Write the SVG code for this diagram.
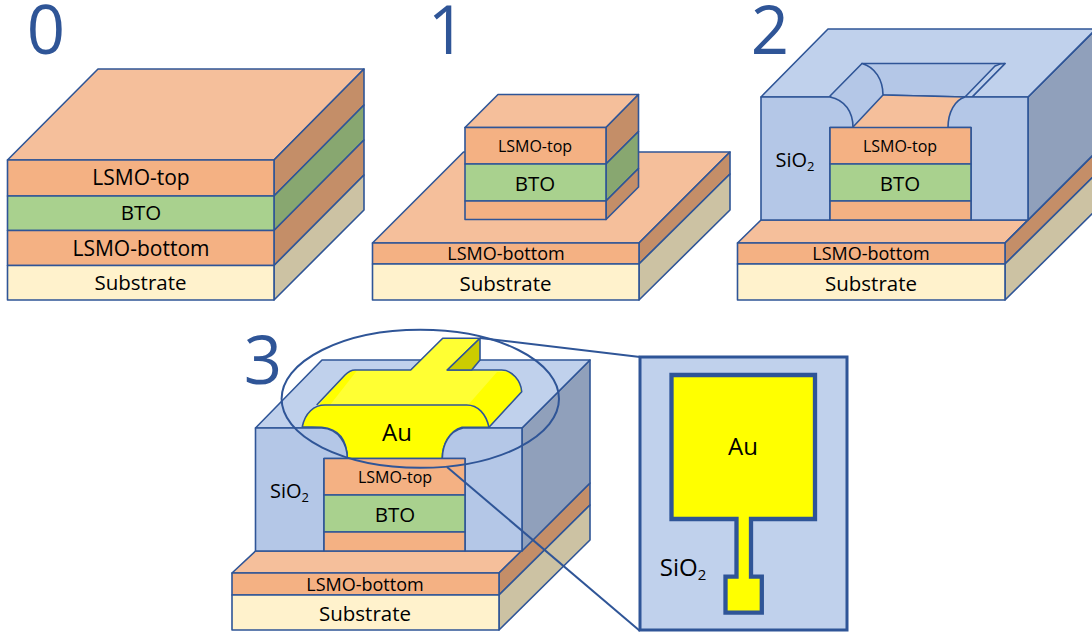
<svg xmlns="http://www.w3.org/2000/svg" width="1092" height="634" viewBox="0 0 1092 634">
<style>
.s{stroke:#2f5597;stroke-width:1.6;stroke-linejoin:round}
.ot{fill:#f5bf9b}.of{fill:#f4b183}.os{fill:#c48e68}
.gf{fill:#a9d18e}.gs{fill:#88a770}
.yf{fill:#fff2cc}.ys{fill:#ccc2a3}
.bf{fill:#b4c7e7}.bt{fill:#c0d1ec}.bs{fill:#90a0bb}
.t{font-family:"Open Sans","Liberation Sans",sans-serif;fill:#000;text-anchor:middle}
.l{font-size:21px}.m{font-size:20.500px}.k{font-size:18px}.h{font-size:16px}.a{font-size:24px}
.n{font-family:"Open Sans","Liberation Sans",sans-serif;fill:#2f5597;font-size:67px;text-anchor:middle}
</style>
<g id="panel-0">
<path class="s ot" d="M7.500 160L98 69H364L274 160Z"/>
<path class="s os" d="M274 160L364 69V105L274 196Z"/>
<path class="s gs" d="M274 196L364 105V140L274 230.500Z"/>
<path class="s os" d="M274 230.500L364 140V175L274 265.500Z"/>
<path class="s ys" d="M274 265.500L364 175V210L274 300Z"/>
<rect class="s of" x="7.500" y="160" width="266.500" height="36"/>
<rect class="s gf" x="7.500" y="196" width="266.500" height="34.500"/>
<rect class="s of" x="7.500" y="230.500" width="266.500" height="35"/>
<rect class="s yf" x="7.500" y="265.500" width="266.500" height="34.500"/>
<text class="n" x="46" y="54">0</text>
<text class="t l" x="141" y="185">LSMO-top</text>
<text class="t m" x="141" y="220">BTO</text>
<text class="t l" x="141" y="255.500">LSMO-bottom</text>
<text class="t m" x="140.500" y="290">Substrate</text>
</g>
<g id="panel-1">
<path class="s ot" d="M372.500 243L463.500 152H730L639 243Z"/>
<path class="s os" d="M639 243L730 152V174L639 264Z"/>
<path class="s ys" d="M639 264L730 174V210L639 300Z"/>
<rect class="s of" x="372.500" y="243" width="266.500" height="21"/>
<rect class="s yf" x="372.500" y="264" width="266.500" height="36"/>
<path class="s ot" d="M465 127.500L498 94.500H638.500L606 127.500Z"/>
<path class="s os" d="M606 127.500L638.500 94.500V131.500L606 164Z"/>
<path class="s gs" d="M606 164L638.500 131.500V168.500L606 201Z"/>
<path class="s os" d="M606 201L638.500 168.500V187L606 219.500Z"/>
<rect class="s of" x="465" y="127.500" width="141" height="36.500"/>
<rect class="s gf" x="465" y="164" width="141" height="37"/>
<rect class="s of" x="465" y="201" width="141" height="18.500"/>
<text class="n" x="447" y="54">1</text>
<text class="t h" x="535" y="151.500">LSMO-top</text>
<text class="t m" x="535" y="191">BTO</text>
<text class="t k" x="506" y="260">LSMO-bottom</text>
<text class="t m" x="505.500" y="290.500">Substrate</text>
</g>
<g id="panel-2">
<path class="s ot" d="M737.500 243L761 220H1028L1005 243Z"/>
<path class="s os" d="M1005 243L1096 152V174L1005 264Z"/>
<path class="s ys" d="M1005 264L1096 174V210L1005 300Z"/>
<rect class="s of" x="737.500" y="243" width="267.500" height="21"/>
<rect class="s yf" x="737.500" y="264" width="267.500" height="36"/>
<path class="s bs" d="M1028 97L1096 29V152L1028 220Z"/>
<path class="s bt" d="M761 97L828 29H1096L1028 97Z"/>
<path class="s bf" d="M862 63.500H1005L972 97H965L883 95Z"/>
<path class="ot" d="M883 95L965 97C955 101 948 112 948 127.500H853Z"/>
<path class="s" fill="none" d="M883 95L965 97"/>
<path class="s bf" d="M830 96L862 63.500C875 67 883 80 883 95L853 127Z"/>
<path class="s bt" d="M965 97L995 66C998 64.500 1001 63.500 1005 63.500L972 97Z"/>
<path class="s bf" d="M761 97H830C845 100 853 112 853 127.500H830V220H761Z"/>
<path class="s bf" d="M1028 97H965C955 100 948 112 948 127.500H971V220H1028Z"/>
<rect class="s of" x="830" y="127.500" width="141" height="36.500"/>
<rect class="s gf" x="830" y="164" width="141" height="37"/>
<rect class="s of" x="830" y="201" width="141" height="19"/>
<text class="n" x="770" y="54">2</text>
<text class="t h" x="900" y="151.500">LSMO-top</text>
<text class="t m" x="900" y="191">BTO</text>
<text class="t k" x="871" y="260">LSMO-bottom</text>
<text class="t m" x="871" y="290.500">Substrate</text>
<text class="t" font-size="20" x="795" y="166.500">SiO<tspan font-size="13" dy="4">2</tspan></text>
</g>
<g id="panel-3">
<path class="s ot" d="M232 573L255.500 551H522L499 573Z"/>
<path class="s os" d="M499 573L590 483V505L499 595Z"/>
<path class="s ys" d="M499 595L590 505V540L499 630Z"/>
<rect class="s of" x="232" y="573" width="267" height="22"/>
<rect class="s yf" x="232" y="595" width="267" height="35"/>
<path class="s bs" d="M522 428L590 360V483L522 551Z"/>
<path class="s bt" d="M255.500 428L322 360H590L522 428Z"/>
<path fill="#ffff33" d="M316.700 405L345 375C349 371 352 370 355 370H410.700L442.700 338.300H480L447.300 370H501.700C512 370 521 381 521.700 391.700L489 427.300C486 414 478 405 466.700 405Z"/>
<path fill="#ffff00" d="M319 405L347 373C351 371 354 370.500 357 370.500L330 405Z"/>
<path fill="#ffff00" d="M468 405L497 372H501.700C512 370 521 381 521.700 391.700L489 427.300C486 414 478 405 468 405Z"/>
<path class="s" fill="none" d="M316.700 405L345 375C349 371 352 370 355 370H410.700L442.700 338.300H480L447.300 370H501.700C512 370 521 381 521.700 391.700L489 427.300"/>
<path class="s" fill="#cccc00" d="M447.300 370L480 338.300V360L471.700 370Z"/>
<path class="s" fill="#ffff00" d="M302.300 426.700C305 413 314 405 325 405H466.700C478 405 486 414 489 427.300H462C449 431 442.300 445 442.300 458.500H347.300C347 442 340 429 321.700 427.300Z"/>
<path class="s bf" d="M255.500 428H321.700C339 429 347.300 444 347.300 458.500H324V551H255.500Z"/>
<path class="s bf" d="M522 428H463C449 431 442.300 445 442.300 458.500H465V551H522Z"/>
<rect class="s of" x="324" y="458.500" width="141" height="36.500"/>
<rect class="s gf" x="324" y="495" width="141" height="37"/>
<rect class="s of" x="324" y="532" width="141" height="19"/>
<text class="n" x="263" y="384">3</text>
<text class="t a" x="397" y="440.500">Au</text>
<text class="t h" x="395" y="482.500">LSMO-top</text>
<text class="t m" x="395" y="522">BTO</text>
<text class="t k" x="365" y="591">LSMO-bottom</text>
<text class="t m" x="365" y="621">Substrate</text>
<text class="t" font-size="20" x="289.500" y="497.500">SiO<tspan font-size="13" dy="4">2</tspan></text>
</g>
<g id="inset">
<rect x="640" y="357" width="207" height="273" fill="#c0d1ec" stroke="#2f5597" stroke-width="3"/>
<path d="M671.500 375H815V519H751V576.700H761.800V612.700H725.500V576.700H736.500V519H671.500Z" fill="#ffff00" stroke="#2f5597" stroke-width="4.300"/>
<text class="t a" x="743" y="455">Au</text>
<text class="t a" x="683" y="576">SiO<tspan font-size="15" dy="4">2</tspan></text>
</g>
<g id="connectors" fill="none" stroke="#2f5597" stroke-width="2">
<ellipse cx="420.300" cy="398.800" rx="138.700" ry="69"/>
<path d="M480 338L640 357"/>
<path d="M447 467L640 631"/>
</g>
</svg>
